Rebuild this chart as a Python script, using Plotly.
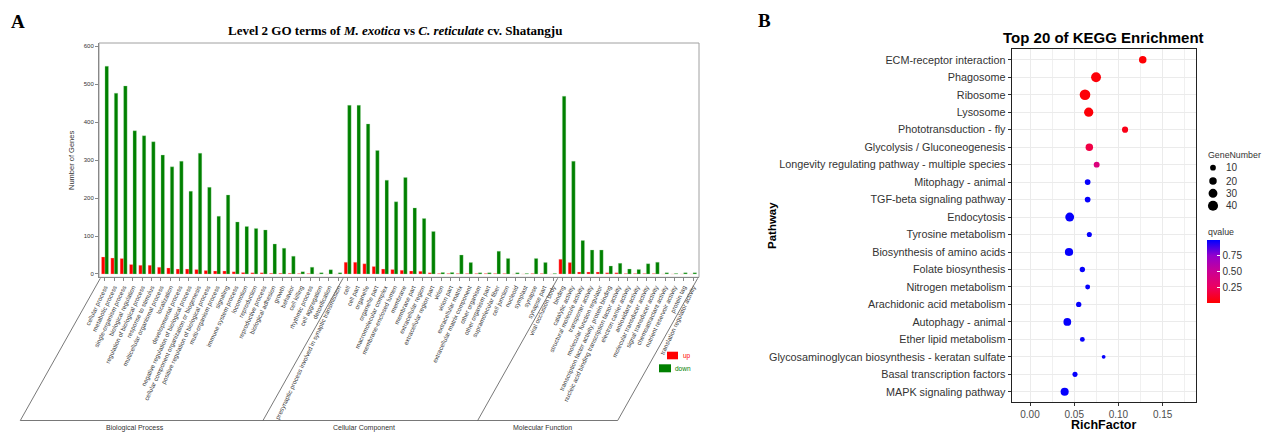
import plotly.graph_objects as go

W, H = 1263, 433

# ---------------- Panel A data (GO level 2) ----------------
bp_terms = ["cellular process", "metabolic process", "single-organism process", "biological regulation",
            "regulation of biological process", "response to stimulus", "multicellular organismal process",
            "localization", "developmental process", "negative regulation of biological process",
            "cellular component organization or biogenesis", "positive regulation of biological process",
            "multi-organism process", "signaling", "immune system process", "locomotion", "reproduction",
            "reproductive process", "biological adhesion", "growth", "behavior", "cell killing",
            "rhythmic process", "cell aggregation", "detoxification",
            "presynaptic process involved in synaptic transmission"]
bp_up = [45, 42, 41, 25, 23, 23, 18, 16, 13, 13, 12, 9, 8, 8, 6, 4, 3, 3, 2, 2, 2, 1, 1, 0, 0, 0]
bp_down = [547, 476, 495, 377, 364, 348, 313, 282, 297, 218, 318, 228, 152, 208, 137, 125, 120, 116,
           79, 68, 47, 6, 18, 3, 11, 3]

cc_terms = ["cell", "cell part", "organelle", "organelle part", "macromolecular complex",
            "membrane-enclosed lumen", "membrane", "membrane part", "extracellular region",
            "extracellular region part", "virion", "virion part", "extracellular matrix",
            "extracellular matrix component", "other organism", "other organism part",
            "supramolecular fiber", "cell junction", "nucleoid", "symplast", "synapse", "synapse part",
            "viral occlusion body"]
cc_up = [31, 31, 27, 20, 13, 12, 10, 8, 7, 3, 1, 1, 1, 1, 1, 1, 1, 1, 0, 0, 1, 1, 0]
cc_down = [444, 444, 395, 325, 247, 190, 254, 174, 146, 112, 4, 4, 50, 30, 3, 3, 60, 41, 3, 1, 41, 30, 1]

mf_terms = ["binding", "catalytic activity", "structural molecule activity", "transporter activity",
            "molecular function regulator", "transcription factor activity, protein binding",
            "nucleic acid binding transcription factor activity", "electron carrier activity",
            "antioxidant activity", "molecular transducer activity", "signal transducer activity",
            "chemoattractant activity", "nutrient reservoir activity", "protein tag",
            "translation regulator activity"]
mf_up = [39, 30, 5, 5, 5, 3, 3, 1, 1, 1, 1, 0, 0, 0, 0]
mf_down = [468, 297, 88, 63, 63, 21, 28, 13, 12, 27, 31, 3, 1, 3, 3]

group_names = ["Biological Process", "Cellular Component", "Molecular Function"]
go_yticks = [0, 100, 200, 300, 400, 500, 600]

# ---------------- Panel B data (KEGG top 20) ----------------
pathways = ["ECM-receptor interaction", "Phagosome", "Ribosome", "Lysosome", "Phototransduction - fly",
            "Glycolysis / Gluconeogenesis", "Longevity regulating pathway - multiple species",
            "Mitophagy - animal", "TGF-beta signaling pathway", "Endocytosis", "Tyrosine metabolism",
            "Biosynthesis of amino acids", "Folate biosynthesis", "Nitrogen metabolism",
            "Arachidonic acid metabolism", "Autophagy - animal", "Ether lipid metabolism",
            "Glycosaminoglycan biosynthesis - keratan sulfate", "Basal transcription factors",
            "MAPK signaling pathway"]
rich_factor = [0.1275, 0.0747, 0.0622, 0.0664, 0.1075, 0.0671, 0.0754, 0.0652, 0.0652, 0.0449, 0.0671,
               0.0441, 0.0592, 0.0652, 0.0551, 0.0422, 0.0592, 0.0833, 0.0509, 0.0392]
gene_number = [20, 38, 45, 33, 12, 20, 11, 10, 10, 30, 7, 25, 8, 6, 8, 22, 6, 2, 7, 24]
qvalue = [0.01, 0.02, 0.02, 0.02, 0.06, 0.18, 0.38, 0.99, 0.99, 0.99, 0.99, 0.99, 0.99, 0.99, 0.99,
          0.99, 0.99, 0.99, 0.99, 0.99]
size_breaks = [10, 20, 30, 40]
rich_ticks = [0.0, 0.05, 0.10, 0.15]
q_ticks = [0.25, 0.50, 0.75]


def dia(g):
    return (10 + 2.3 * g) ** 0.5


def px(x):
    return x / W


def py(y):
    return 1 - y / H


all_terms = bp_terms + cc_terms + mf_terms
all_up = bp_up + cc_up + mf_up
all_down = bp_down + cc_down + mf_down
idx = list(range(len(all_terms)))

# Panel A geometry (pixels)
AX0, AX1 = 99, 699
AY0, AY1 = 43, 277.3
XR = [-0.64, len(all_terms) - 1 + 0.64]


def a_xpix(v):
    return AX0 + (v - XR[0]) / (XR[1] - XR[0]) * (AX1 - AX0)


fig = go.Figure()

fig.add_trace(go.Bar(x=idx, y=all_up, name="up",
                     marker=dict(color="#FF0000", line=dict(width=0.4, color="rgba(255,200,200,0.8)")),
                     xaxis="x", yaxis="y", showlegend=False))
fig.add_trace(go.Bar(x=idx, y=all_down, name="down",
                     marker=dict(color="#008000", line=dict(width=0.4, color="rgba(170,220,170,0.8)")),
                     xaxis="x", yaxis="y", showlegend=False))

fig.add_trace(go.Scatter(
    x=rich_factor, y=pathways, mode="markers", xaxis="x2", yaxis="y2", showlegend=False,
    marker=dict(size=[dia(g) for g in gene_number], color=qvalue, cmin=0, cmax=1, opacity=1,
                colorscale=[[0, "#FF0000"], [0.25, "#EC0060"], [0.5, "#CB0095"], [0.75, "#9400CC"],
                            [1, "#0000FF"]],
                line=dict(width=0),
                colorbar=dict(x=px(1206.7), xanchor="left", y=py(240), yanchor="top",
                              len=63, lenmode="pixels", thickness=13, thicknessmode="pixels",
                              outlinewidth=0, xpad=0, ypad=0,
                              tickvals=q_ticks, ticktext=["%.2f" % t for t in q_ticks],
                              ticks="inside", ticklen=3, tickcolor="white",
                              tickfont=dict(size=10, color="#333"), title=dict(text="")))))

shapes = []
# Panel A frame (top/right)
shapes.append(dict(type="rect", xref="paper", yref="paper", x0=px(AX0), x1=px(AX1), y0=py(AY1), y1=py(AY0),
                   line=dict(color="#A0A0A0", width=1), layer="below"))
# Parallelogram with group separators
BOT = 420.5
for b in [-0.5, len(bp_terms) - 0.5, len(bp_terms) + len(cc_terms) - 0.5, len(all_terms) - 0.5]:
    xt = a_xpix(b)
    shapes.append(dict(type="line", xref="paper", yref="paper", x0=px(xt), y0=py(AY1 + 1),
                       x1=px(xt - 80), y1=py(BOT), line=dict(color="#555", width=0.8)))
shapes.append(dict(type="line", xref="paper", yref="paper", x0=px(a_xpix(-0.5) - 80), y0=py(BOT),
                   x1=px(a_xpix(len(all_terms) - 0.5) - 80), y1=py(BOT), line=dict(color="#555", width=0.8)))
# Legend keys A
shapes.append(dict(type="rect", xref="paper", yref="paper", x0=px(667), x1=px(678), y0=py(359.3), y1=py(351.7),
                   fillcolor="#FF0000", line=dict(width=0)))
shapes.append(dict(type="rect", xref="paper", yref="paper", x0=px(659), x1=px(671), y0=py(372.3), y1=py(364.3),
                   fillcolor="#008000", line=dict(width=0)))
# Size legend B
size_y = [167.7, 181, 193.3, 205.7]
for g, yy in zip(size_breaks, size_y):
    d = dia(g)
    shapes.append(dict(type="circle", xref="paper", yref="paper", x0=px(1213 - d / 2), x1=px(1213 + d / 2),
                       y0=py(yy + d / 2), y1=py(yy - d / 2), fillcolor="black", line=dict(width=0)))

ann = []
SERIF = "Liberation Serif, Times New Roman, serif"
SANS = "Liberation Sans, Arial, sans-serif"
ann.append(dict(text="<b>A</b>", x=px(18), y=py(22), font=dict(family=SERIF, size=19, color="black")))
ann.append(dict(text="<b>B</b>", x=px(764), y=py(20), font=dict(family=SERIF, size=19, color="black")))
ann.append(dict(text="<b>Level 2 GO terms of <i>M. exotica</i> vs <i>C. reticulate</i> cv. Shatangju</b>",
                x=px(395), y=py(31), font=dict(family=SERIF, size=13, color="black")))
ann.append(dict(text="Number of Genes", x=px(71), y=py(161), textangle=-90,
                font=dict(family=SANS, size=7.5, color="#333")))
for name, xc in zip(group_names, [135, 364, 542]):
    ann.append(dict(text=name, x=px(xc), y=py(427.5), font=dict(family=SANS, size=7, color="#333")))
ann.append(dict(text="up", x=px(681), y=py(355.5), xanchor="left", font=dict(family=SANS, size=6.5, color="#FF0000")))
ann.append(dict(text="down", x=px(673), y=py(368.3), xanchor="left", font=dict(family=SANS, size=6.5, color="#008000")))

ann.append(dict(text="<b>Top 20 of KEGG Enrichment</b>", x=px(1103), y=py(37),
                font=dict(family=SANS, size=15, color="black")))
ann.append(dict(text="<b>Pathway</b>", x=px(772), y=py(226), textangle=-90,
                font=dict(family=SANS, size=11.5, color="black")))
ann.append(dict(text="<b>RichFactor</b>", x=px(1103), y=py(424.5), font=dict(family=SANS, size=12.5, color="black")))
ann.append(dict(text="GeneNumber", x=px(1206), y=py(155), xanchor="left", font=dict(family=SANS, size=8.8, color="#333")))
ann.append(dict(text="qvalue", x=px(1206), y=py(232), xanchor="left", font=dict(family=SANS, size=8.8, color="#333")))
for g, yy in zip(size_breaks, size_y):
    ann.append(dict(text=str(g), x=px(1224), y=py(yy), xanchor="left", font=dict(family=SANS, size=10, color="#333")))
for a in ann:
    a.setdefault("xref", "paper")
    a.setdefault("yref", "paper")
    a.setdefault("showarrow", False)
    a.setdefault("xanchor", "center")
    a.setdefault("yanchor", "middle")

fig.update_layout(
    width=W, height=H, margin=dict(l=0, r=0, t=0, b=0, pad=0, autoexpand=False),
    paper_bgcolor="white", plot_bgcolor="white",
    font=dict(family=SANS),
    barmode="group", bargap=0.25, bargroupgap=0,
    shapes=shapes, annotations=ann,
    xaxis=dict(domain=[px(AX0), px(AX1)], range=XR, anchor="y", automargin=False,
               tickmode="array", tickvals=idx, ticktext=all_terms, tickangle=-65,
               tickfont=dict(family=SANS, size=6.2, color="#333"),
               ticks="outside", ticklen=3, tickcolor="#888", showline=True, linecolor="#888", linewidth=1,
               showgrid=False, zeroline=False),
    yaxis=dict(domain=[py(AY1), py(AY0)], range=[-8.7, 608], anchor="x", automargin=False,
               tickmode="array", tickvals=go_yticks, tickfont=dict(family=SANS, size=6, color="#333"),
               ticks="outside", ticklen=3, tickcolor="#888", showline=True, linecolor="#888", linewidth=1,
               showgrid=False, zeroline=False),
    xaxis2=dict(domain=[px(1011.7), px(1195.7)], range=[-0.0207, 0.1874], anchor="y2", automargin=False,
                tickmode="array", tickvals=rich_ticks, ticktext=["%.2f" % t for t in rich_ticks],
                tickfont=dict(family=SANS, size=10, color="#4D4D4D"),
                ticks="outside", ticklen=3, tickcolor="#333",
                showline=True, mirror=True, linecolor="#222", linewidth=1.2,
                showgrid=True, gridcolor="#EBEBEB", gridwidth=1,
                minor=dict(dtick=0.025, tick0=0, showgrid=True, gridcolor="#F0F0F0", gridwidth=0.6),
                zeroline=False),
    yaxis2=dict(domain=[py(402.3), py(49.3)], anchor="x2", type="category", automargin=False,
                categoryorder="array", categoryarray=pathways[::-1], range=[-0.6, len(pathways) - 0.4],
                tickfont=dict(family=SANS, size=10.8, color="#333"),
                ticks="outside", ticklen=3, tickcolor="#333",
                showline=True, mirror=True, linecolor="#222", linewidth=1.2,
                showgrid=True, gridcolor="#EBEBEB", gridwidth=1, zeroline=False),
)

fig.write_html("out.html", config={"displayModeBar": False},
               post_script="document.body.style.margin='0';document.body.style.padding='0';"
                           "document.documentElement.style.overflow='hidden';")
